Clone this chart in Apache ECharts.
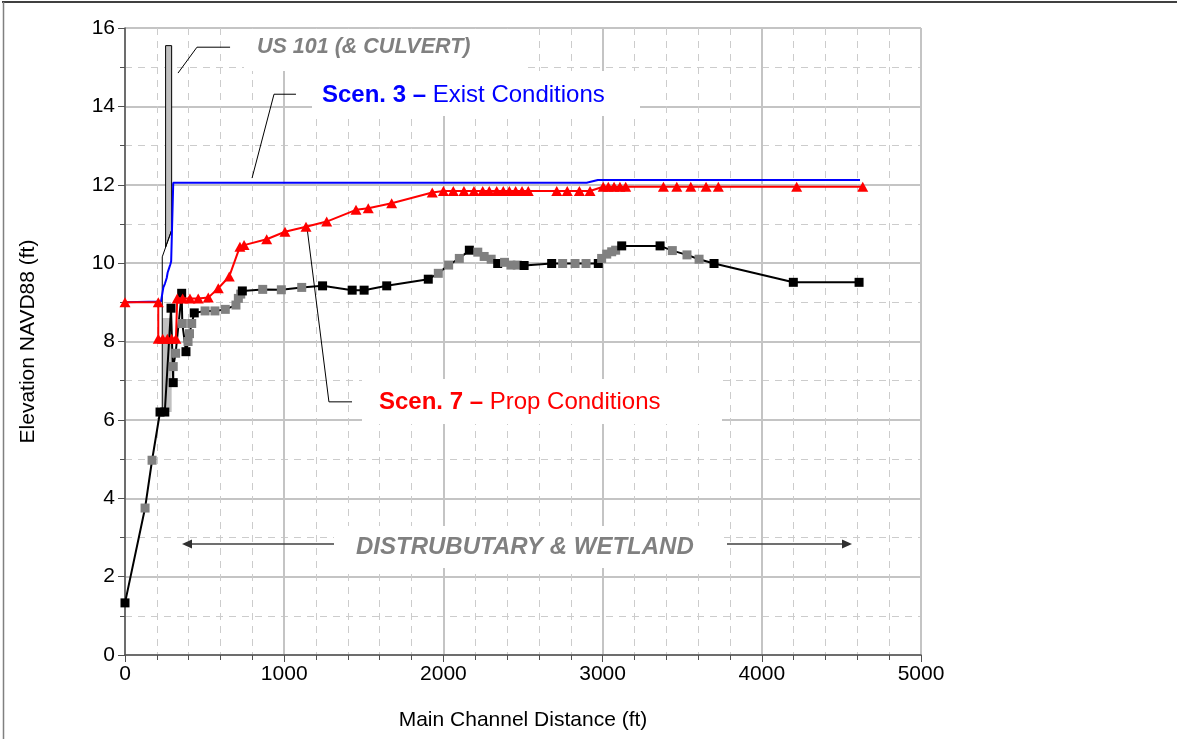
<!DOCTYPE html>
<html>
<head>
<meta charset="utf-8">
<script src="https://cdn.jsdelivr.net/npm/echarts@6/dist/echarts.min.js"></script>
<style>
  html, body { margin: 0; padding: 0; background: #fff; }
  #chart { width: 1177px; height: 739px; }
</style>
</head>
<body>
<div id="chart"></div>
<script>
// Channel bed profile (thalweg). 'S' = surveyed section (black), 'I' = interpolated section (gray)
const groundStation = [0, 126, 170, 220, 250, 289, 303, 303, 318, 356, 360, 383, 396, 405, 419, 435,
  503, 565, 630, 697, 712, 727, 737, 865, 982, 1110, 1241, 1427, 1502, 1644, 1905, 1968, 2033, 2100,
  2163, 2216, 2256, 2300, 2341, 2384, 2424, 2464, 2507, 2680, 2749, 2827, 2896, 2973, 2994, 3026,
  3057, 3082, 3120, 3361, 3438, 3530, 3606, 3700, 4198, 4611];
const groundElev = [1.33, 3.75, 4.97, 6.2, 6.2, 8.85, 6.95, 7.36, 7.7, 9.23, 8.46, 7.74, 8.0, 8.2, 8.46, 8.73,
  8.78, 8.78, 8.82, 8.93, 9.1, 9.21, 9.29, 9.33, 9.32, 9.38, 9.42, 9.31, 9.31, 9.42, 9.59, 9.74, 9.95, 10.12,
  10.33, 10.28, 10.17, 10.1, 9.99, 10.02, 9.95, 9.95, 9.94, 9.99, 9.99, 9.99, 9.99, 9.99, 10.12, 10.23,
  10.29, 10.33, 10.44, 10.44, 10.32, 10.21, 10.1, 9.99, 9.51, 9.51];
const groundType = ['S','I','I','S','S','S','S','I','I','S','I','S','I','I','I','S',
  'I','I','I','I','I','I','S','I','I','I','S','S','S','S','S','I','I','I',
  'S','I','I','I','S','I','I','I','S','S','I','I','I','S','I','I',
  'I','I','S','S','I','I','I','S','S','S'];

// Scenario 7 - proposed conditions water surface
const scen7Station = [0, 209, 209, 237, 266, 293, 320, 328, 362, 408, 460, 523, 586, 655, 722, 748, 890,
  1005, 1137, 1267, 1451, 1528, 1675, 1930, 2000, 2062, 2129, 2192, 2247, 2288, 2335, 2376, 2414, 2454,
  2494, 2533, 2712, 2778, 2854, 2921, 3004, 3036, 3072, 3109, 3145, 3382, 3466, 3554, 3650, 3727, 4219, 4634];
const scen7Elev = [9.0, 9.0, 8.07, 8.07, 8.07, 8.07, 8.07, 9.1, 9.1, 9.1, 9.1, 9.12, 9.36, 9.66, 10.42, 10.46, 10.61,
  10.8, 10.93, 11.06, 11.36, 11.4, 11.53, 11.8, 11.84, 11.84, 11.84, 11.84, 11.84, 11.84, 11.84, 11.84, 11.84, 11.84,
  11.84, 11.84, 11.84, 11.84, 11.84, 11.84, 11.95, 11.95, 11.95, 11.95, 11.95, 11.95, 11.95, 11.95, 11.95, 11.95, 11.95, 11.95];

// Scenario 3 - existing conditions water surface
const scen3Station = [0, 226, 241, 251, 262, 268, 276, 285, 290, 303, 2900, 2970, 4617];
const scen3Elev = [9.0, 9.02, 9.38, 9.48, 9.62, 9.76, 9.86, 9.97, 10.05, 12.05, 12.05, 12.12, 12.12];

// US 101 embankment and culvert
const roadway = [[255, 15.55], [293, 15.55], [293, 10.84], [255, 10.41]];
const culvertCrown = [[234, 10.16], [293, 10.84]];
const culvertWall = [[234, 6.2], [234, 10.16]];
const culvertFill = [[234, 6.2], [293, 6.2], [293, 8.6], [234, 8.6]];

// Callout leaders (station, elevation)
const leaderUS101 = [[333, 14.85], [452, 15.51], [660, 15.51]];
const leaderScen3 = [[798, 12.17], [936, 14.31], [1074, 14.31]];
const leaderScen7 = [[1143, 10.92], [1281, 6.46], [1426, 6.46]];

const FONT = '"Liberation Sans", Arial, sans-serif';

const zip = (xs, ys) => xs.map((x, i) => [x, ys[i]]);

const groundData = groundStation.map((x, i) => ({
  value: [x, groundElev[i]],
  itemStyle: { color: groundType[i] === 'S' ? '#000000' : '#808080' }
}));

const chart = echarts.init(document.getElementById('chart'), null, { renderer: 'canvas' });

function polyItem(points, style) {
  return function (params, api) {
    return {
      type: 'polygon',
      shape: { points: points.map(p => api.coord(p)) },
      style: style,
      silent: true
    };
  };
}

function leaderSeries(pts) {
  return {
    type: 'line', data: pts, symbol: 'none', silent: true, z: 3,
    lineStyle: { color: '#000', width: 1 }, animation: false
  };
}

const option = {
  animation: false,
  backgroundColor: '#ffffff',
  grid: { left: 125, right: 256, top: 28, bottom: 84, containLabel: false },
  xAxis: {
    type: 'value', min: 0, max: 5000, interval: 1000,
    name: 'Main Channel Distance (ft)', nameLocation: 'middle', nameGap: 55,
    nameTextStyle: { fontFamily: FONT, fontSize: 21, color: '#000' },
    axisLine: { show: true, onZero: false, lineStyle: { color: '#505050', width: 1.5 } },
    axisTick: { show: true, inside: false, length: 7, lineStyle: { color: '#505050' } },
    minorTick: { show: true, splitNumber: 5, length: 5, lineStyle: { color: '#505050' } },
    axisLabel: { fontFamily: FONT, fontSize: 21, color: '#000', margin: 9, formatter: v => String(v) },
    splitLine: { show: true, lineStyle: { color: '#c4c4c4', width: 2 } },
    minorSplitLine: { show: true, lineStyle: { color: '#cccccc', width: 1, type: [7, 6] } }
  },
  yAxis: {
    type: 'value', min: 0, max: 16, interval: 2,
    name: 'Elevation NAVD88 (ft)', nameLocation: 'middle', nameGap: 86, nameRotate: 90,
    nameTextStyle: { fontFamily: FONT, fontSize: 21, color: '#000' },
    axisLine: { show: true, onZero: false, lineStyle: { color: '#505050', width: 1.5 } },
    axisTick: { show: true, inside: false, length: 7, lineStyle: { color: '#505050' } },
    minorTick: { show: true, splitNumber: 2, length: 5, lineStyle: { color: '#505050' } },
    axisLabel: { fontFamily: FONT, fontSize: 21, color: '#000', margin: 10, formatter: v => String(v) },
    splitLine: { show: true, lineStyle: { color: '#c4c4c4', width: 2 } },
    minorSplitLine: { show: true, lineStyle: { color: '#cccccc', width: 1, type: [7, 6] } }
  },
  series: [
    {
      name: 'Culvert fill', type: 'custom', silent: true, z: 2, data: [0],
      renderItem: polyItem(culvertFill, { fill: '#c0c0c0', stroke: null })
    },
    {
      name: 'US 101', type: 'custom', silent: true, z: 2, data: [0],
      renderItem: polyItem(roadway, { fill: '#c0c0c0', stroke: '#000', lineWidth: 1 })
    },
    {
      type: 'line', data: culvertCrown, symbol: 'none', silent: true, z: 2,
      lineStyle: { color: '#000', width: 1 }
    },
    {
      type: 'line', data: culvertWall, symbol: 'none', silent: true, z: 2,
      lineStyle: { color: '#000', width: 1 }
    },
    leaderSeries(leaderUS101),
    leaderSeries(leaderScen3),
    leaderSeries(leaderScen7),
    {
      name: 'Scen. 3', type: 'line', data: zip(scen3Station, scen3Elev), symbol: 'none', z: 4,
      lineStyle: { color: '#0000ff', width: 2 }
    },
    {
      name: 'Channel bed', type: 'line', data: groundData, z: 5,
      symbol: 'rect', symbolSize: 9, showAllSymbol: true,
      lineStyle: { color: '#000', width: 2 }
    },
    {
      name: 'Scen. 7', type: 'line', data: zip(scen7Station, scen7Elev), z: 6,
      symbol: 'triangle', symbolSize: [11, 10], showAllSymbol: true,
      itemStyle: { color: '#ff0000' },
      lineStyle: { color: '#ff0000', width: 2 }
    }
  ],
  graphic: [
    // page frame
    { type: 'line', shape: { x1: 2, y1: 2, x2: 1177, y2: 2 }, style: { stroke: '#000', lineWidth: 1.5 }, z: 20 },
    { type: 'line', shape: { x1: 3.5, y1: 2, x2: 3.5, y2: 739 }, style: { stroke: '#808080', lineWidth: 1.5 }, z: 20 },
    // label backing boxes (mask the grid behind the callouts)
    { type: 'rect', shape: { x: 244, y: 29, width: 281, height: 42 }, style: { fill: '#fff' }, z: 1 },
    { type: 'rect', shape: { x: 312, y: 71, width: 328, height: 45 }, style: { fill: '#fff' }, z: 1 },
    { type: 'rect', shape: { x: 362, y: 379, width: 360, height: 45 }, style: { fill: '#fff' }, z: 1 },
    { type: 'rect', shape: { x: 334, y: 526, width: 390, height: 42 }, style: { fill: '#fff' }, z: 1 },
    // callout texts
    {
      type: 'text', z: 10, x: 257, y: 47,
      style: { text: 'US 101 (& CULVERT)', font: 'italic bold 21.5px ' + FONT, fill: '#808080', textVerticalAlign: 'middle' }
    },
    {
      type: 'text', z: 10, x: 322, y: 95,
      style: {
        text: '{b|Scen. 3 – }{r|Exist Conditions}', textVerticalAlign: 'middle',
        rich: {
          b: { font: 'bold 24px ' + FONT, fill: '#0000ff' },
          r: { font: '24px ' + FONT, fill: '#0000ff' }
        }
      }
    },
    {
      type: 'text', z: 10, x: 379, y: 402,
      style: {
        text: '{b|Scen. 7 – }{r|Prop Conditions}', textVerticalAlign: 'middle',
        rich: {
          b: { font: 'bold 24px ' + FONT, fill: '#ff0000' },
          r: { font: '24px ' + FONT, fill: '#ff0000' }
        }
      }
    },
    {
      type: 'text', z: 10, x: 356, y: 547,
      style: { text: 'DISTRUBUTARY & WETLAND', font: 'italic bold 24px ' + FONT, fill: '#808080', textVerticalAlign: 'middle' }
    },
    // extent arrows
    { type: 'line', z: 10, shape: { x1: 190, y1: 544, x2: 334, y2: 544 }, style: { stroke: '#404040', lineWidth: 1.5 } },
    { type: 'line', z: 10, shape: { x1: 727, y1: 544, x2: 845, y2: 544 }, style: { stroke: '#404040', lineWidth: 1.5 } },
    { type: 'polygon', z: 10, shape: { points: [[182, 544], [192, 539.5], [192, 548.5]] }, style: { fill: '#303030' } },
    { type: 'polygon', z: 10, shape: { points: [[852, 544], [842, 539.5], [842, 548.5]] }, style: { fill: '#303030' } }
  ]
};

chart.setOption(option);
</script>
</body>
</html>
